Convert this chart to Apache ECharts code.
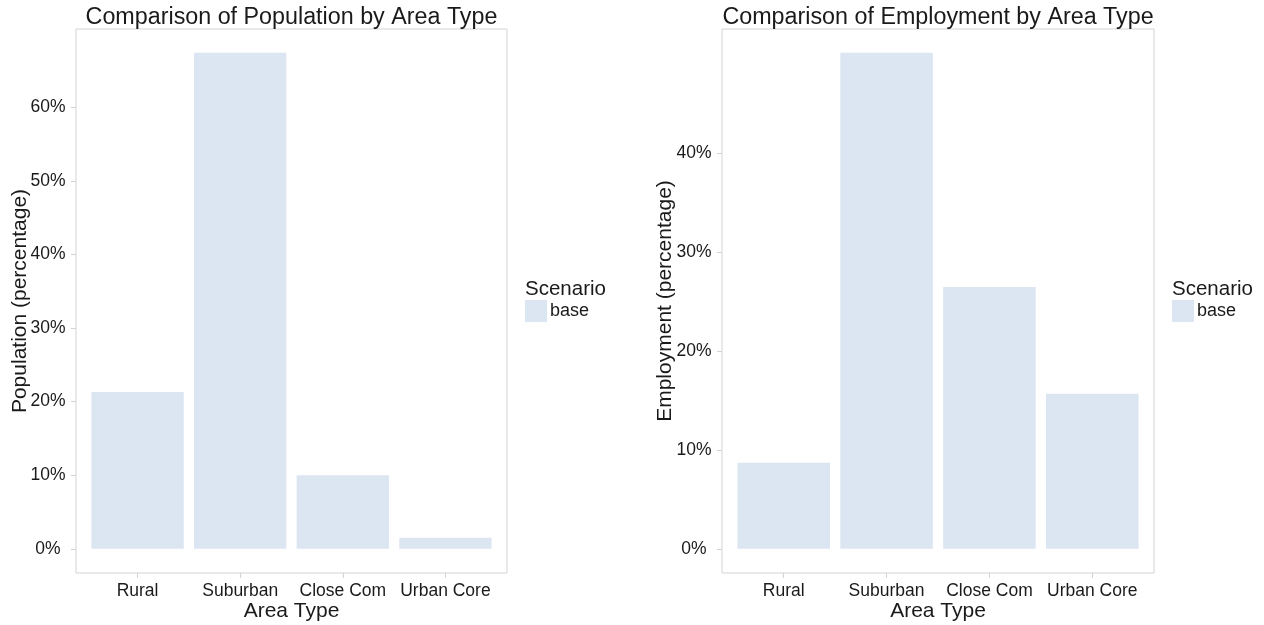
<!DOCTYPE html>
<html>
<head>
<meta charset="utf-8">
<script src="https://cdn.jsdelivr.net/npm/echarts@6/dist/echarts.min.js"></script>
<style>
html,body{margin:0;padding:0;background:#fff;}
#chart{width:1264px;height:625px;}
</style>
</head>
<body>
<div id="chart"></div>
<script>
const categories = ['Rural', 'Suburban', 'Close Com', 'Urban Core'];
const populationPct = [21.3, 67.4, 10.0, 1.5];
const employmentPct = [8.7, 50.2, 26.5, 15.7];
const populationTickMax = 60;
const employmentTickMax = 40;
const tickStep = 10;
const scenarioName = 'base';

const FONT = 'Liberation Sans, Arial, sans-serif';
const TXT = '#1a1a1a';
const GREY = '#d3d3d3';
const BAR = '#dce6f2';

const chart = echarts.init(document.getElementById('chart'));

const grids = [];
const xAxes = [];
const yAxes = [];
const series = [];

function mkGrid(o) {
  return Object.assign({ show: false, containLabel: false, outerBoundsMode: 'none' }, o);
}

// Build one ggplot-like panel from layout numbers
function addPanel(p) {
  const unit = p.width / 4.2;           // discrete axis: 4 categories + 0.6 expansion each side
  const inL = p.left + 0.1 * unit;
  const inW = 4 * unit;
  const zeroY = p.top + p.height - 24.2; // y of 0%
  const gTop = zeroY - p.tickMax * p.pxPerPct;
  const gH = p.tickMax * p.pxPerPct;

  // frame grid: border + y name
  let gi = grids.length;
  grids.push(mkGrid({ left: p.left, top: p.top, width: p.width, height: p.height, show: true,
               borderColor: GREY, borderWidth: 1, backgroundColor: 'transparent' }));
  xAxes.push({ type: 'value', gridIndex: gi, show: false, min: 0, max: 1 });
  yAxes.push({ type: 'value', gridIndex: gi, min: 0, max: 1, show: true,
    axisLine: { show: false }, axisTick: { show: false }, axisLabel: { show: false }, splitLine: { show: false },
    name: p.yName, nameLocation: 'middle', nameGap: p.yNameGap, nameRotate: 90,
    nameTextStyle: { fontFamily: FONT, fontSize: 21, color: TXT } });

  // y-axis ticks/labels grid
  gi = grids.length;
  grids.push(mkGrid({ left: p.left, top: gTop, width: p.width, height: gH }));
  xAxes.push({ type: 'value', gridIndex: gi, show: false, min: 0, max: 1 });
  yAxes.push({ type: 'value', gridIndex: gi, min: 0, max: p.tickMax, interval: tickStep,
    axisLine: { show: false },
    axisTick: { show: true, length: 5, lineStyle: { color: GREY } },
    splitLine: { show: false },
    axisLabel: { fontFamily: FONT, fontSize: 17.5, color: TXT, margin: 28, align: 'center',
                 formatter: v => v + '%' } });

  // x-axis ticks/labels grid
  gi = grids.length;
  grids.push(mkGrid({ left: inL, top: p.top, width: inW, height: p.height }));
  xAxes.push({ type: 'category', gridIndex: gi, data: categories,
    axisLine: { show: false },
    axisTick: { show: true, alignWithLabel: true, interval: 0, length: 5, lineStyle: { color: GREY } },
    axisLabel: { fontFamily: FONT, fontSize: 17.5, color: TXT, margin: 9, interval: 0 },
    name: 'Area Type', nameLocation: 'middle', nameGap: 28, nameMoveOverlap: false,
    nameTextStyle: { fontFamily: FONT, fontSize: 21, color: TXT } });
  yAxes.push({ type: 'value', gridIndex: gi, show: false, min: 0, max: 1 });

  // data grid
  gi = grids.length;
  grids.push(mkGrid({ left: inL, top: gTop, width: inW, height: gH }));
  xAxes.push({ type: 'category', gridIndex: gi, data: categories, show: false });
  yAxes.push({ type: 'value', gridIndex: gi, show: false, min: 0, max: p.tickMax });
  series.push({ name: scenarioName, type: 'bar', xAxisIndex: gi, yAxisIndex: gi, data: p.data,
    barWidth: '90%', clip: false, itemStyle: { color: BAR }, silent: true });
}

addPanel({ left: 76, top: 29, width: 431, height: 544, tickMax: populationTickMax, pxPerPct: 7.36,
           data: populationPct, yName: 'Population (percentage)', yNameGap: 45 });
addPanel({ left: 722, top: 29, width: 432, height: 544, tickMax: employmentTickMax, pxPerPct: 9.88,
           data: employmentPct, yName: 'Employment (percentage)', yNameGap: 46 });

const titleStyle = { fontFamily: FONT, fontSize: 23.3, fontWeight: 'normal', color: TXT };
const legTitleStyle = { fontFamily: FONT, fontSize: 20.5, fontWeight: 'normal', color: TXT };

const option = {
  animation: false,
  backgroundColor: '#fff',
  title: [
    { text: 'Comparison of Population by Area Type', left: 291.5, top: 6, textAlign: 'center', padding: 0, textStyle: titleStyle },
    { text: 'Comparison of Employment by Area Type', left: 938, top: 6, textAlign: 'center', padding: 0, textStyle: titleStyle },
    { text: 'Scenario', left: 525, top: 279, padding: 0, textStyle: legTitleStyle },
    { text: 'Scenario', left: 1172, top: 279, padding: 0, textStyle: legTitleStyle }
  ],
  legend: [
    { data: [scenarioName], left: 525, top: 300, icon: 'rect', itemWidth: 22, itemHeight: 22,
      textStyle: { fontFamily: FONT, fontSize: 18, color: TXT, padding: [0, 0, 0, -2] }, padding: 0, selectedMode: false },
    { data: [scenarioName], left: 1172, top: 300, icon: 'rect', itemWidth: 22, itemHeight: 22,
      textStyle: { fontFamily: FONT, fontSize: 18, color: TXT, padding: [0, 0, 0, -2] }, padding: 0, selectedMode: false }
  ],
  grid: grids,
  xAxis: xAxes,
  yAxis: yAxes,
  series: series
};
chart.setOption(option);
</script>
</body>
</html>
